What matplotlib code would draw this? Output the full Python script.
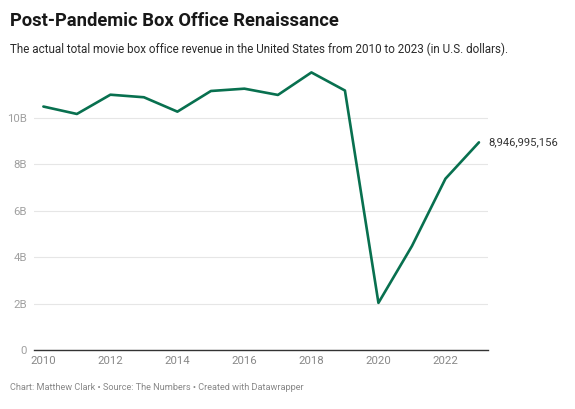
import matplotlib.pyplot as plt
from matplotlib.ticker import FuncFormatter

# box office revenue, billions USD
years = [2010, 2011, 2012, 2013, 2014, 2015, 2016, 2017, 2018, 2019, 2020, 2021, 2022, 2023]
revenue = [10.49, 10.17, 11.0, 10.89, 10.27, 11.16, 11.26, 10.99, 11.96, 11.18, 2.03, 4.48, 7.38, 8.946995156]
last_label = "8,946,995,156"
yticks = [0, 2, 4, 6, 8, 10]
xticks = [2010, 2012, 2014, 2016, 2018, 2020, 2022]

plt.rcParams['font.family'] = ['Roboto', 'DejaVu Sans']

fig = plt.figure(figsize=(5.75, 4.09), dpi=100)
ax = fig.add_axes([34/575, 1-350/409, (488-34)/575, (350-65)/409])

ax.plot(years, revenue, color='#08704f', lw=1.9, solid_capstyle='round', solid_joinstyle='round', zorder=3)
ax.annotate(last_label, (years[-1], revenue[-1]), xytext=(7, 0), textcoords='offset points',
            va='center', ha='left', fontsize=8.1, color='#333333', annotation_clip=False)

ax.set_xlim(2009.72, 2023.27)
ax.set_ylim(0, 12.28)
ax.set_yticks(yticks)
ax.set_xticks(xticks)
ax.yaxis.set_major_formatter(FuncFormatter(lambda v, p: '0' if v == 0 else f'{int(v)}B'))
ax.grid(axis='y', color='#e6e6e6', lw=0.8)
ax.set_axisbelow(True)
for s in ['top', 'right', 'left']:
    ax.spines[s].set_visible(False)
ax.spines['bottom'].set_color('#333333')
ax.spines['bottom'].set_linewidth(1.0)
ax.tick_params(axis='y', length=0, pad=5, labelsize=8.2, labelcolor='#a0a0a0')
ax.tick_params(axis='x', length=0, pad=4, labelsize=8.2, labelcolor='#888888')

fig.text(10/575, 1-21/409, "Post-Pandemic Box Office Renaissance", fontsize=13.2,
         fontweight='bold', color='#181818', va='center', ha='left')
fig.text(10/575, 1-49/409, "The actual total movie box office revenue in the United States from 2010 to 2023 (in U.S. dollars).",
         fontsize=8.35, color='#2a2a2a', va='center', ha='left')
fig.text(10/575, 1-387/409, "Chart: Matthew Clark \u2022 Source: The Numbers \u2022 Created with Datawrapper",
         fontsize=6.6, color='#888888', va='center', ha='left')

fig.savefig('out.png', dpi=100)
